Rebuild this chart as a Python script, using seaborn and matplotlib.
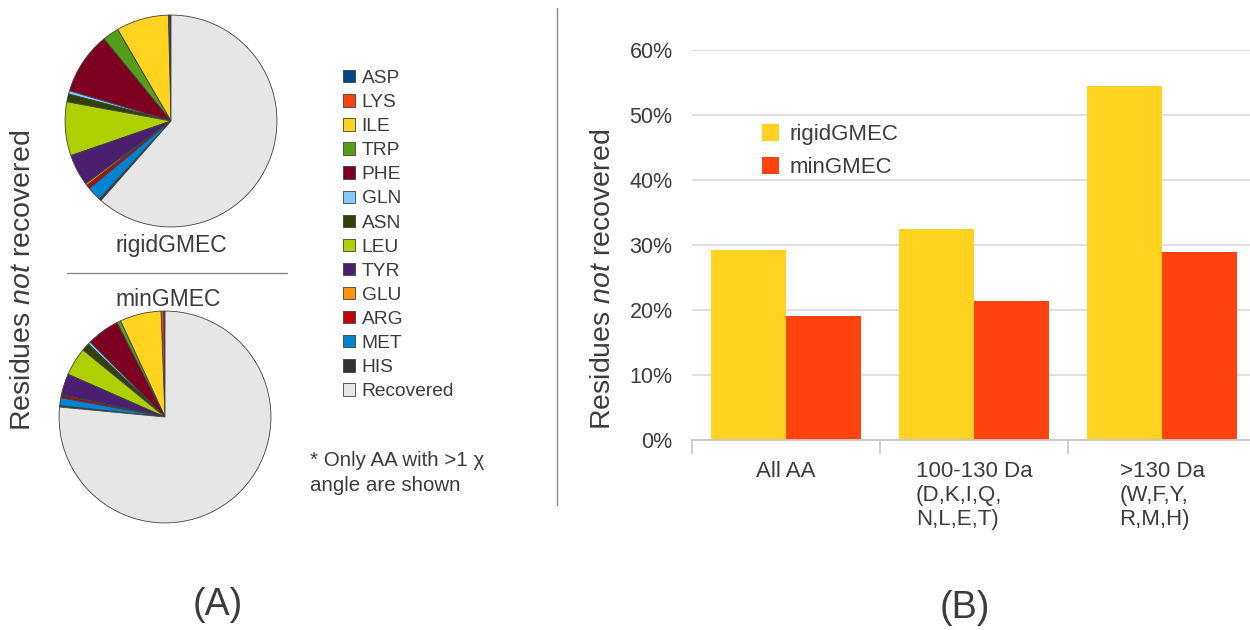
import matplotlib
matplotlib.use("Agg")
import matplotlib.pyplot as plt
from matplotlib.lines import Line2D
from matplotlib.ticker import FuncFormatter, FixedLocator
import seaborn as sns
import pandas as pd

# ---------------- data ----------------
residues = ["ASP", "LYS", "ILE", "TRP", "PHE", "GLN", "ASN", "LEU", "TYR",
            "GLU", "ARG", "MET", "HIS", "Recovered"]
residue_colors = ["#004586", "#ff420e", "#ffd320", "#579d1c", "#7e0021", "#83caff",
                  "#314004", "#aecf00", "#4b1f6f", "#ff950e", "#c5000b", "#0084d1",
                  "#333333", "#e6e6e6"]
rigid_pie = [0.3, 0.1, 8.0, 2.5, 9.5, 0.5, 1.2, 8.2, 4.8, 0.3, 0.6, 2.2, 0.3, 61.5]
min_pie = [0.2, 0.4, 6.3, 0.6, 5.0, 0.4, 1.2, 4.3, 3.2, 0.1, 0.4, 1.2, 0.2, 76.5]

categories = ["All AA", "100-130 Da\n(D,K,I,Q,\nN,L,E,T)", ">130 Da\n(W,F,Y,\nR,M,H)"]
methods = ["rigidGMEC", "minGMEC"]
rigid_bar = [29.2, 32.5, 54.5]
min_bar = [19.1, 21.4, 28.9]
bar_colors = ["#ffd320", "#ff420e"]
y_ticks = [0, 10, 20, 30, 40, 50, 60]

# ---------------- style ----------------
sns.set_style("white")
plt.rcParams["font.family"] = ["Liberation Sans", "DejaVu Sans"]
plt.rcParams["mathtext.fontset"] = "custom"
plt.rcParams["mathtext.rm"] = "Liberation Sans"
plt.rcParams["mathtext.it"] = "Liberation Sans:italic"
TXT = "#3c3c3c"

W, H = 1250, 630
fig = plt.figure(figsize=(W / 100, H / 100), dpi=100)


def px_axes(x0, y0, w, h):
    return fig.add_axes([x0 / W, 1 - (y0 + h) / H, w / W, h / H])


def fx(x):
    return x / W


def fy(y):
    return 1 - y / H


# ---------------- pies ----------------
ax1 = px_axes(64, 14, 214, 214)
wedges, _ = ax1.pie(rigid_pie, colors=residue_colors, startangle=90, counterclock=True,
                    wedgeprops=dict(edgecolor="#404040", linewidth=0.6))
ax1.set_xlim(-1.01, 1.01)
ax1.set_ylim(-1.01, 1.01)
ax1.set_aspect("equal")
ax1.axis("off")

ax2 = px_axes(58, 310, 214, 214)
ax2.pie(min_pie, colors=residue_colors, startangle=90, counterclock=True,
        wedgeprops=dict(edgecolor="#404040", linewidth=0.6))
ax2.set_xlim(-1.01, 1.01)
ax2.set_ylim(-1.01, 1.01)
ax2.set_aspect("equal")
ax2.axis("off")

fig.legend(wedges, residues, loc="upper left", bbox_to_anchor=(fx(343), fy(70)),
           bbox_transform=fig.transFigure, frameon=False, fontsize=13.8,
           handlelength=0.62, handleheight=0.62, handletextpad=0.35,
           labelspacing=0.37, borderpad=0, borderaxespad=0, labelcolor=TXT)

fig.text(fx(171), fy(246), "rigidGMEC", ha="center", va="center", fontsize=16.5, color=TXT)
fig.text(fx(168), fy(299), "minGMEC", ha="center", va="center", fontsize=16.5, color=TXT)
fig.add_artist(Line2D([fx(67), fx(287)], [fy(273), fy(273)], transform=fig.transFigure,
                      color="#8a8a8a", lw=1.0))
fig.text(fx(23), fy(280), r"Residues $\mathit{not}$ recovered", rotation=90,
         ha="center", va="center", fontsize=20.5, color=TXT)
fig.text(fx(310), fy(473), "* Only AA with >1 \u03c7\nangle are shown", ha="left",
         va="center", fontsize=14.8, color=TXT, linespacing=1.35)
fig.text(fx(218), fy(605), "(A)", ha="center", va="center", fontsize=27, color=TXT)
fig.text(fx(965), fy(608), "(B)", ha="center", va="center", fontsize=27, color=TXT)

# divider
fig.add_artist(Line2D([fx(557), fx(557)], [fy(8), fy(505)], transform=fig.transFigure,
                      color="#8a8a8a", lw=1.0))

# ---------------- bars ----------------
df = pd.DataFrame({
    "category": categories * 2,
    "method": [methods[0]] * 3 + [methods[1]] * 3,
    "value": rigid_bar + min_bar,
})
axb = px_axes(692, 50, 564, 390)
sns.barplot(data=df, x="category", y="value", hue="method", order=categories,
            hue_order=methods, palette=bar_colors, saturation=1, width=0.8,
            linewidth=0, ax=axb)
axb.set_xlim(-0.5, 2.5)
axb.set_ylim(0, 60)
axb.yaxis.set_major_locator(FixedLocator(y_ticks))
axb.yaxis.set_major_formatter(FuncFormatter(lambda v, p: f"{v:.0f}%"))
axb.set_axisbelow(True)
axb.yaxis.grid(True, color="#dddddd", lw=1.3)
axb.xaxis.grid(False)
for s in ["left", "right", "top"]:
    axb.spines[s].set_visible(False)
axb.spines["bottom"].set_color("#c8c8c8")
axb.spines["bottom"].set_linewidth(1.3)
axb.set_xlabel("")
axb.set_ylabel("")
axb.tick_params(axis="y", length=0, pad=14, labelsize=15.5, labelcolor=TXT)
axb.tick_params(axis="x", which="major", length=0, pad=15, labelsize=16, labelcolor=TXT)
axb.xaxis.set_minor_locator(FixedLocator([-0.5, 0.5, 1.5, 2.5]))
axb.tick_params(axis="x", which="minor", length=10, width=1.2, color="#c8c8c8",
                direction="out", bottom=True)
for lab in axb.get_xticklabels():
    lab.set_multialignment("left")

handles, labels = axb.get_legend_handles_labels()
axb.legend(handles, labels, loc="upper left", bbox_to_anchor=(fx(762), fy(124)),
           bbox_transform=fig.transFigure, frameon=False, fontsize=16,
           handlelength=0.77, handleheight=0.77, handletextpad=0.45,
           labelspacing=0.54, borderpad=0, borderaxespad=0, labelcolor=TXT)

fig.text(fx(603), fy(279), r"Residues $\mathit{not}$ recovered", rotation=90,
         ha="center", va="center", fontsize=20.5, color=TXT)

fig.savefig("out.png", dpi=100)
